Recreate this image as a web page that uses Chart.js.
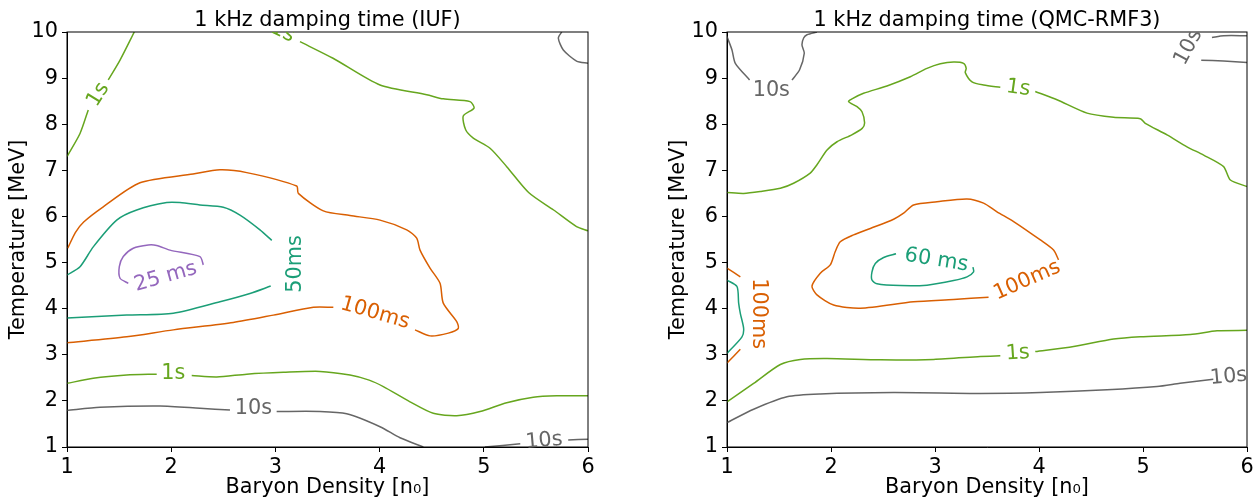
<!DOCTYPE html>
<html lang="en">
<head>
<meta charset="UTF-8">
<title>1 kHz damping time</title>
<script src="https://cdn.jsdelivr.net/npm/chart.js"></script>
<style>
    body { margin: 0; background: #fff; width: 1257px; height: 500px; position: relative; overflow: hidden; }
    canvas { position: absolute; top: 0; }
</style>
</head>
<body>
<canvas id="iuf" width="620" height="500" style="left:0"></canvas>
<canvas id="qmc" width="597" height="500" style="left:660px"></canvas>
<script>
// axis ticks
const xTicks = [1, 2, 3, 4, 5, 6];
const yTicks = [1, 2, 3, 4, 5, 6, 7, 8, 9, 10];

// ---- IUF contours, [density n0, temperature MeV] ----
const iuf_1s_a = [[1.0, 7.30], [1.125, 7.80], [1.204, 8.31]];
const iuf_1s_b = [[1.396, 8.96], [1.509, 9.39], [1.646, 10.0]];
const iuf_1s_c = [[3.236, 9.79], [3.553, 9.43], [4.004, 8.85], [4.452, 8.64], [4.611, 8.55], [4.868, 8.49],
    [4.906, 8.35], [4.803, 8.18], [4.826, 7.88], [4.899, 7.70], [5.06, 7.48], [5.22, 7.08], [5.43, 6.52],
    [5.67, 6.14], [5.89, 5.78], [6.0, 5.69]];
const iuf_10s_corner = [[5.748, 10.0], [5.715, 9.87], [5.763, 9.61], [5.89, 9.37], [6.0, 9.32]];
const iuf_100ms_a = [[1.007, 5.31], [1.08, 5.65], [1.16, 5.88], [1.348, 6.21], [1.70, 6.73], [2.21, 6.92],
    [2.468, 7.01], [2.725, 6.95], [3.204, 6.66], [3.22, 6.50], [3.46, 6.12], [3.716, 6.02], [4.004, 5.92],
    [4.26, 5.71], [4.356, 5.53], [4.388, 5.27], [4.484, 4.88], [4.58, 4.55], [4.611, 4.12], [4.74, 3.72],
    [4.755, 3.57], [4.66, 3.47], [4.484, 3.41], [4.34, 3.54]];
const iuf_100ms_b = [[3.556, 4.03], [3.364, 4.03], [2.98, 3.86], [2.596, 3.70], [2.02, 3.54], [1.573, 3.39], [1.0, 3.26]];
const iuf_50ms_a = [[1.0, 4.73], [1.125, 4.91], [1.252, 5.34], [1.477, 5.92], [1.669, 6.14], [1.957, 6.30],
    [2.084, 6.30], [2.276, 6.25], [2.50, 6.20], [2.66, 6.03], [2.852, 5.71], [2.965, 5.48]];
const iuf_50ms_b = [[2.955, 4.49], [2.756, 4.33], [2.468, 4.15], [2.02, 3.90], [1.573, 3.86], [1.0, 3.80]];
const iuf_25ms = [[1.588, 4.55], [1.509, 4.66], [1.502, 4.91], [1.54, 5.13], [1.636, 5.31], [1.78, 5.38],
    [1.86, 5.37], [1.988, 5.27], [2.276, 5.13], [2.308, 4.95]];
const iuf_1s_low_a = [[1.0, 2.38], [1.252, 2.49], [1.573, 2.56], [1.861, 2.58]];
const iuf_1s_low_b = [[2.197, 2.55], [2.437, 2.52], [2.725, 2.58], [3.076, 2.62], [3.428, 2.64], [3.716, 2.56],
    [3.9, 2.45], [4.036, 2.31], [4.292, 1.98], [4.515, 1.73], [4.74, 1.68], [4.964, 1.77], [5.22, 1.96],
    [5.475, 2.08], [5.70, 2.11], [6.0, 2.11]];
const iuf_10s_low_a = [[1.0, 1.79], [1.317, 1.86], [1.893, 1.89], [2.276, 1.84], [2.564, 1.80]];
const iuf_10s_low_b = [[3.012, 1.77], [3.428, 1.77], [3.684, 1.72], [4.004, 1.44], [4.196, 1.20], [4.42, 1.0]];
const iuf_10s_br_a = [[5.01, 1.0], [5.35, 1.07]];
const iuf_10s_br_b = [[5.81, 1.15], [6.0, 1.17]];

// ---- QMC-RMF3 contours ----
const qmc_10s_tl_a = [[1.0, 9.9], [1.048, 9.61], [1.08, 9.32], [1.217, 8.96]];
const qmc_10s_tl_b = [[1.625, 8.96], [1.698, 9.18], [1.743, 9.54], [1.721, 9.72], [1.737, 9.87], [1.769, 9.94], [1.865, 10.0]];
const qmc_10s_tr_a = [[5.663, 9.88], [5.775, 9.92], [6.0, 9.92]];
const qmc_10s_tr_b = [[5.56, 9.39], [5.775, 9.37], [6.0, 9.34]];
const qmc_1s_a = [[1.0, 6.52], [1.16, 6.50], [1.32, 6.54], [1.513, 6.61], [1.64, 6.72], [1.80, 6.94], [1.865, 7.12],
    [1.962, 7.44], [2.058, 7.62], [2.20, 7.77], [2.30, 7.91], [2.323, 8.03], [2.298, 8.27], [2.25, 8.38],
    [2.169, 8.49], [2.202, 8.55], [2.313, 8.67], [2.538, 8.83], [2.763, 9.03], [2.923, 9.21], [3.051, 9.31],
    [3.179, 9.35], [3.275, 9.32], [3.30, 9.21], [3.291, 9.12], [3.356, 8.92], [3.467, 8.85], [3.628, 8.80]];
const qmc_1s_b = [[3.964, 8.71], [4.173, 8.53], [4.462, 8.24], [4.717, 8.15], [4.974, 8.12], [5.022, 8.02],
    [5.231, 7.77], [5.423, 7.51], [5.583, 7.33], [5.775, 7.08], [5.84, 6.79], [6.0, 6.65]];
const qmc_100ms = [[3.515, 4.25], [3.179, 4.20], [2.794, 4.15], [2.282, 4.01], [2.025, 4.08], [1.865, 4.30],
    [1.817, 4.49], [1.897, 4.77], [1.993, 4.95], [2.041, 5.24], [2.089, 5.45], [2.217, 5.60], [2.378, 5.74],
    [2.602, 5.94], [2.698, 6.07], [2.794, 6.25], [3.019, 6.32], [3.308, 6.38], [3.467, 6.29], [3.596, 6.10],
    [3.756, 5.89], [4.013, 5.49], [4.14, 5.27], [4.188, 5.06]];
const qmc_60ms = [[2.625, 5.19], [2.506, 5.11], [2.426, 4.98], [2.394, 4.80], [2.394, 4.62], [2.442, 4.54],
    [2.666, 4.50], [2.923, 4.51], [3.179, 4.61], [3.308, 4.69], [3.371, 4.80], [3.365, 4.90]];
const qmc_100ms_edge_a = [[1.0, 4.88], [1.128, 4.69]];
const qmc_100ms_edge_b = [[1.128, 3.12], [1.0, 2.82]];
const qmc_60ms_edge = [[1.0, 4.62], [1.096, 4.48], [1.112, 4.12], [1.128, 3.90], [1.16, 3.57], [1.144, 3.39], [1.0, 3.03]];
const qmc_1s_low_a = [[1.0, 1.98], [1.256, 2.38], [1.513, 2.79], [1.705, 2.90], [1.962, 2.92], [2.474, 2.89],
    [2.987, 2.90], [3.436, 2.96], [3.628, 2.98]];
const qmc_1s_low_b = [[3.964, 3.07], [4.333, 3.18], [4.717, 3.34], [4.974, 3.39], [5.455, 3.44], [5.712, 3.52], [6.0, 3.53]];
const qmc_10s_low = [[1.0, 1.53], [1.256, 1.82], [1.577, 2.09], [1.897, 2.15], [2.602, 2.18], [3.436, 2.16],
    [4.013, 2.18], [4.654, 2.24], [5.135, 2.31], [5.356, 2.38], [5.676, 2.47]];

// contour label texts and their data positions
const iufLabels = [
    { text: '1s', x: 1.30, y: 8.64, rot: -58, level: '1s' },
    { text: '1s', x: 3.07, y: 10.0, rot: 25, level: '1s', clip: true },
    { text: '100ms', x: 3.956, y: 3.90, rot: 16, level: '100ms' },
    { text: '50ms', x: 3.195, y: 4.97, rot: -90, level: '50ms' },
    { text: '25 ms', x: 1.947, y: 4.69, rot: -16, level: '25ms' },
    { text: '1s', x: 2.02, y: 2.60, rot: 0, level: '1s' },
    { text: '10s', x: 2.79, y: 1.83, rot: 0, level: '10s' },
    { text: '10s', x: 5.578, y: 1.13, rot: -5, level: '10s' }
];
const qmcLabels = [
    { text: '10s', x: 1.426, y: 8.73, rot: 0, level: '10s' },
    { text: '10s', x: 5.437, y: 9.67, rot: -62, level: '10s', clip: true },
    { text: '1s', x: 3.80, y: 8.78, rot: 8, level: '1s' },
    { text: '100ms', x: 3.885, y: 4.61, rot: -24, level: '100ms' },
    { text: '60 ms', x: 3.013, y: 5.05, rot: 9, level: '60ms' },
    { text: '100ms', x: 1.304, y: 3.89, rot: 90, level: '100ms' },
    { text: '1s', x: 3.796, y: 3.03, rot: -4, level: '1s' },
    { text: '10s', x: 5.823, y: 2.52, rot: -5, level: '10s' }
];

const levelColor = {
    '25ms': '#9467bd',
    '50ms': '#1b9e77',
    '60ms': '#1b9e77',
    '100ms': '#d95f02',
    '1s': '#66a61e',
    '10s': '#666666'
};

const iufLines = [
    [iuf_1s_a, '1s'], [iuf_1s_b, '1s'], [iuf_1s_c, '1s'], [iuf_10s_corner, '10s'],
    [iuf_100ms_a, '100ms'], [iuf_100ms_b, '100ms'], [iuf_50ms_a, '50ms'], [iuf_50ms_b, '50ms'],
    [iuf_25ms, '25ms'], [iuf_1s_low_a, '1s'], [iuf_1s_low_b, '1s'],
    [iuf_10s_low_a, '10s'], [iuf_10s_low_b, '10s'], [iuf_10s_br_a, '10s'], [iuf_10s_br_b, '10s']
];
const qmcLines = [
    [qmc_10s_tl_a, '10s'], [qmc_10s_tl_b, '10s'], [qmc_10s_tr_a, '10s'], [qmc_10s_tr_b, '10s'],
    [qmc_1s_a, '1s'], [qmc_1s_b, '1s'], [qmc_100ms, '100ms'], [qmc_60ms, '60ms'],
    [qmc_100ms_edge_a, '100ms'], [qmc_100ms_edge_b, '100ms'], [qmc_60ms_edge, '60ms'],
    [qmc_1s_low_a, '1s'], [qmc_1s_low_b, '1s'], [qmc_10s_low, '10s']
];

const FONT = "'DejaVu Sans', sans-serif";
const FS = 20.8;
Chart.defaults.font.family = FONT;
Chart.defaults.color = '#000';

// frame, title and inline contour labels
function decorPlugin(title, labels) {
    return {
        id: 'decor',
        afterDatasetsDraw(chart) {
            const { ctx, chartArea: a, scales } = chart;
            ctx.save();
            ctx.strokeStyle = '#000';
            ctx.lineWidth = 1;
            ctx.strokeRect(a.left, a.top, a.right - a.left, a.bottom - a.top);
            ctx.font = FS + 'px ' + FONT;
            ctx.fillStyle = '#000';
            ctx.textAlign = 'center';
            ctx.textBaseline = 'alphabetic';
            ctx.fillText(title, (a.left + a.right) / 2, a.top - 6);
            ctx.textBaseline = 'middle';
            labels.forEach(l => {
                ctx.save();
                if (l.clip) {
                    ctx.beginPath();
                    ctx.rect(a.left, a.top, a.right - a.left, a.bottom - a.top);
                    ctx.clip();
                }
                ctx.translate(scales.x.getPixelForValue(l.x), scales.y.getPixelForValue(l.y));
                ctx.rotate(l.rot * Math.PI / 180);
                ctx.fillStyle = levelColor[l.level];
                ctx.fillText(l.text, 0, 0);
                ctx.restore();
            });
            ctx.restore();
        }
    };
}

function makePanel(id, title, lines, labels, padRight) {
    new Chart(document.getElementById(id), {
        type: 'scatter',
        data: {
            datasets: lines.map(([pts, level]) => ({
                data: pts.map(p => ({ x: p[0], y: p[1] })),
                showLine: true,
                borderColor: levelColor[level],
                borderWidth: 1.5,
                pointRadius: 0,
                fill: false,
                tension: 0.25
            }))
        },
        options: {
            responsive: false,
            animation: false,
            layout: { padding: { top: 32, right: padRight, left: 0, bottom: 0 } },
            plugins: { legend: { display: false }, tooltip: { enabled: false } },
            scales: {
                x: {
                    type: 'linear', min: xTicks[0], max: xTicks[xTicks.length - 1],
                    afterFit: s => { s.height = 53; },
                    afterBuildTicks: s => { s.ticks = xTicks.map(v => ({ value: v })); },
                    ticks: { font: { size: FS }, padding: 3, maxRotation: 0 },
                    grid: { display: true, drawOnChartArea: false, tickLength: 5, color: '#000' },
                    border: { display: true, color: '#000', width: 1 },
                    title: { display: true, text: 'Baryon Density [n\u2080]', font: { size: FS }, padding: { top: 0, bottom: 0 } }
                },
                y: {
                    type: 'linear', min: yTicks[0], max: yTicks[yTicks.length - 1],
                    afterFit: s => { s.width = 67; },
                    afterBuildTicks: s => { s.ticks = yTicks.map(v => ({ value: v })); },
                    ticks: { font: { size: FS }, padding: 4 },
                    grid: { display: true, drawOnChartArea: false, tickLength: 5, color: '#000' },
                    border: { display: true, color: '#000', width: 1 },
                    title: { display: true, text: 'Temperature [MeV]', font: { size: FS }, padding: { top: 6, bottom: 0 } }
                }
            }
        },
        plugins: [decorPlugin(title, labels)]
    });
}

makePanel('iuf', '1 kHz damping time (IUF)', iufLines, iufLabels, 32);
makePanel('qmc', '1 kHz damping time (QMC-RMF3)', qmcLines, qmcLabels, 10);
</script>
</body>
</html>
